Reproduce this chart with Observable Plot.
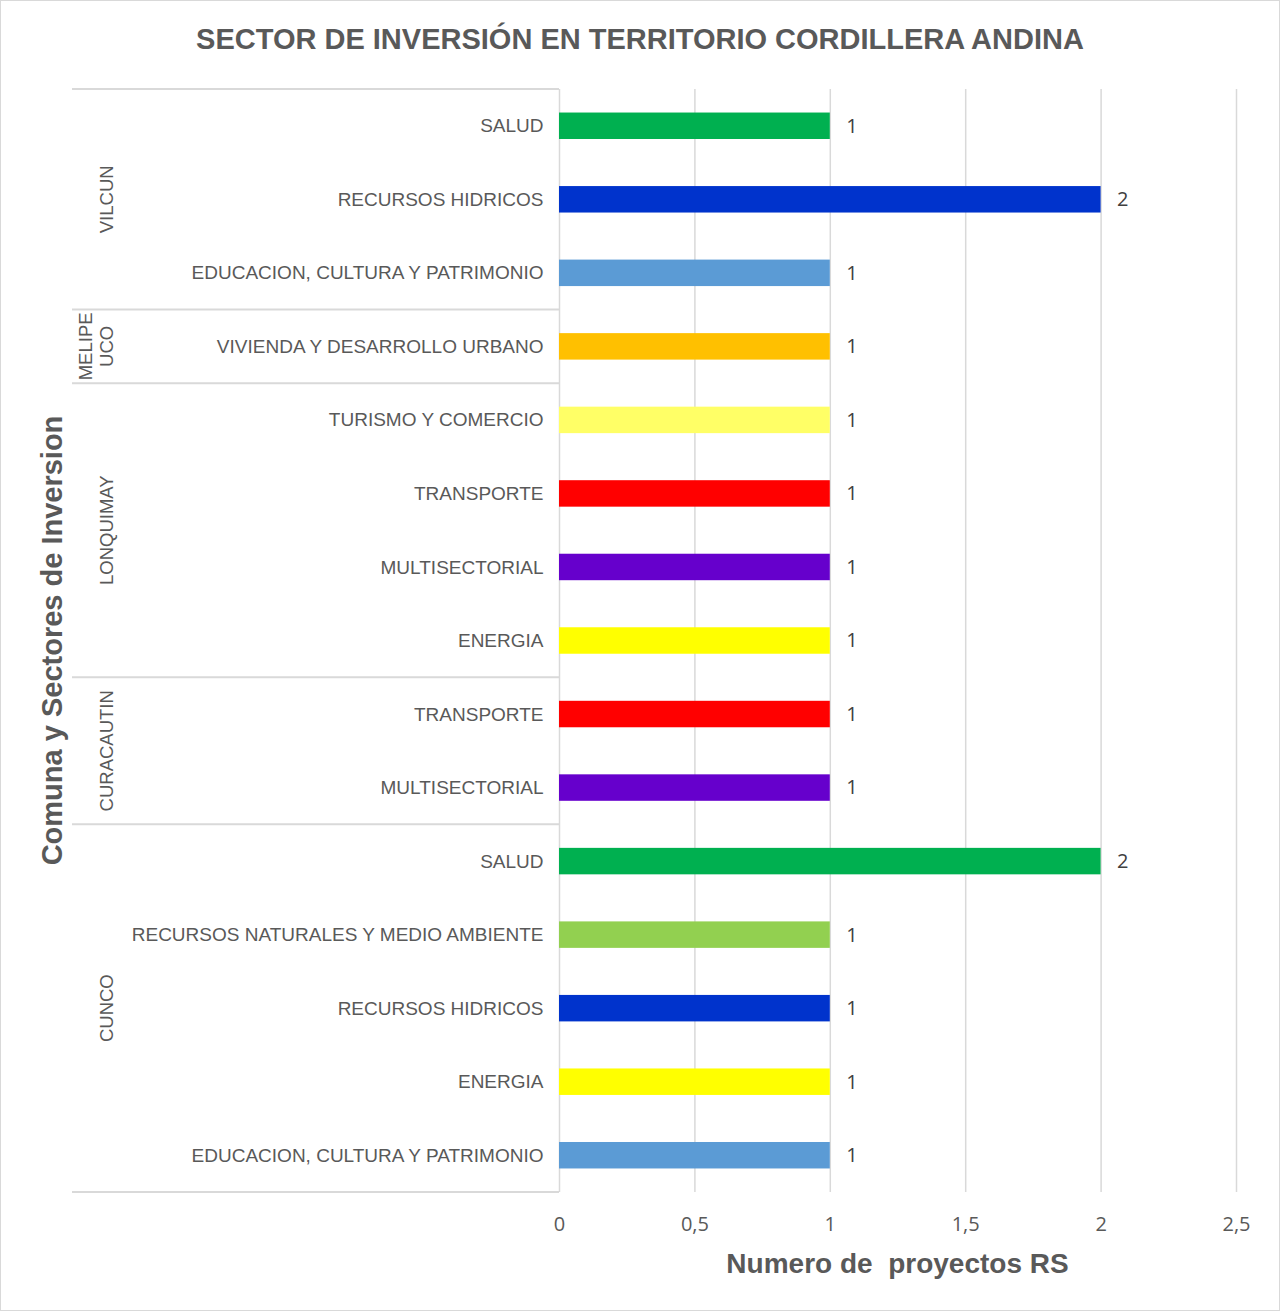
<!DOCTYPE html>
<html>
<head>
<meta charset="utf-8">
<script src="https://cdn.jsdelivr.net/npm/d3@7"></script>
<script src="https://cdn.jsdelivr.net/npm/@observablehq/plot@0.6"></script>
<style>
  html, body { margin: 0; padding: 0; background: #fff; }
  #frame { position: relative; width: 1280px; height: 1311px; box-sizing: border-box; border: 1px solid #d9d9d9; background: #fff; font-family: "Liberation Sans", Arial, sans-serif; }
  #title { height: 60px; line-height: 76px; text-align: center; font-weight: bold; font-size: 29px; color: #595959; white-space: nowrap; }
  svg { display: block; }
</style>
</head>
<body>
<div id="frame">
  <div id="title">SECTOR DE INVERSIÓN EN TERRITORIO CORDILLERA ANDINA</div>
  <div id="chart"></div>
</div>
<script>
// ---- Data ----
const comunas = ["VILCUN","VILCUN","VILCUN","MELIPEUCO","LONQUIMAY","LONQUIMAY","LONQUIMAY","LONQUIMAY","CURACAUTIN","CURACAUTIN","CUNCO","CUNCO","CUNCO","CUNCO","CUNCO"];
const sectores = ["SALUD","RECURSOS HIDRICOS","EDUCACION, CULTURA Y PATRIMONIO","VIVIENDA Y DESARROLLO URBANO","TURISMO Y COMERCIO","TRANSPORTE","MULTISECTORIAL","ENERGIA","TRANSPORTE","MULTISECTORIAL","SALUD","RECURSOS NATURALES Y MEDIO AMBIENTE","RECURSOS HIDRICOS","ENERGIA","EDUCACION, CULTURA Y PATRIMONIO"];
const valores = [1,2,1,1,1,1,1,1,1,1,2,1,1,1,1];
const sectorNombres = ["SALUD","RECURSOS HIDRICOS","EDUCACION, CULTURA Y PATRIMONIO","VIVIENDA Y DESARROLLO URBANO","TURISMO Y COMERCIO","TRANSPORTE","MULTISECTORIAL","ENERGIA","RECURSOS NATURALES Y MEDIO AMBIENTE"];
const sectorColores = ["#00B050","#0033CC","#5B9BD5","#FFC000","#FFFF66","#FF0000","#6600CC","#FFFF00","#92D050"];
const grupos = ["VILCUN","MELIPEUCO","LONQUIMAY","CURACAUTIN","CUNCO"];
const grupoEtiquetas = [["VILCUN"],["MELIPE","UCO"],["LONQUIMAY"],["CURACAUTIN"],["CUNCO"]];
const ticksX = [0, 0.5, 1, 1.5, 2, 2.5];
const tituloX = "Numero de  proyectos RS";
const tituloY = "Comuna y Sectores de Inversion";

// ---- Build table ----
const rows = comunas.map((c, i) => ({comuna: c, sector: sectores[i], valor: valores[i], key: c + "|" + sectores[i]}));
const keys = rows.map(d => d.key);

const W = 1278, H = 1249;
const mLeft = 558, mRight = 43, mTop = 28, mBottom = 118;
const fmt = v => String(v).replace(".", ",");
const numFont = "'Open Sans', 'Liberation Sans', sans-serif";

const chart = Plot.plot({
  width: W,
  height: H,
  marginLeft: mLeft,
  marginRight: mRight,
  marginTop: mTop,
  marginBottom: mBottom,
  style: {fontFamily: "'Liberation Sans', Arial, sans-serif", fontSize: "19px", color: "#595959", background: "#fff", overflow: "visible"},
  x: {domain: [0, 2.5], ticks: ticksX, tickFormat: fmt, tickSize: 0, tickPadding: 24, label: null},
  y: {domain: keys, paddingInner: 0.64, paddingOuter: 0.32, round: false, tickFormat: k => k.split("|")[1], tickSize: 0, tickPadding: 16, label: null},
  color: {domain: sectorNombres, range: sectorColores},
  marks: [
    Plot.gridX(ticksX, {stroke: "#d9d9d9", strokeOpacity: 1, strokeWidth: 1.5}),
    Plot.barX(rows, {x: "valor", y: "key", fill: "sector"}),
    Plot.text(rows, {x: "valor", y: "key", text: d => fmt(d.valor), dx: 16, textAnchor: "start", fontSize: 20, fill: "#404040", fontFamily: numFont})
  ]
});

document.getElementById("chart").appendChild(chart);

// ---- Decorations using the plot's own y scale ----
const svg = d3.select(chart);
svg.selectAll("g").filter(function(){ return /x-axis/.test(this.getAttribute("aria-label") || ""); })
  .attr("font-size", 20).attr("font-family", numFont)
  .selectAll("text").attr("font-size", 20).attr("font-family", numFont);

const ys = chart.scale("y");
const band = d3.scaleBand().domain(ys.domain).range(ys.range).paddingInner(0.64).paddingOuter(0.32);
const yApply = ys.apply ? (k => ys.apply(k)) : (k => band(k));
const bw = ys.bandwidth != null ? ys.bandwidth : band.bandwidth();
const step = ys.step != null ? ys.step : band.step();
const gap = (step - bw) / 2;

const lineX0 = 71, lineX1 = mLeft;
const g = svg.append("g").attr("aria-label", "groups");
const boundaries = [];
grupos.forEach((gr, gi) => {
  const ks = rows.filter(r => r.comuna === gr).map(r => r.key);
  const top = yApply(ks[0]) - gap;
  const bottom = yApply(ks[ks.length - 1]) + bw + gap;
  if (gi === 0) boundaries.push(top);
  boundaries.push(bottom);
  const cy = (top + bottom) / 2;
  const lines = grupoEtiquetas[gi];
  lines.forEach((t, li) => {
    const cx = 105 - (lines.length - 1 - li) * 21;
    g.append("text")
      .attr("transform", `translate(${cx},${cy}) rotate(-90)`)
      .attr("text-anchor", "middle")
      .attr("dominant-baseline", "central")
      .attr("font-size", 18.5)
      .attr("fill", "#595959")
      .text(t);
  });
});
boundaries.forEach(b => {
  g.append("line").attr("x1", lineX0).attr("x2", lineX1).attr("y1", b).attr("y2", b)
    .attr("stroke", "#d9d9d9").attr("stroke-width", 2);
});

// axis titles
const plotTop = mTop, plotBottom = H - mBottom;
svg.append("text")
  .attr("transform", `translate(51,${(plotTop + plotBottom) / 2}) rotate(-90)`)
  .attr("text-anchor", "middle")
  .attr("dominant-baseline", "central")
  .attr("font-size", 29)
  .attr("font-weight", "bold")
  .attr("fill", "#595959")
  .text(tituloY);

svg.append("text")
  .attr("x", (mLeft + (W - mRight)) / 2)
  .attr("y", plotBottom + 71)
  .attr("text-anchor", "middle")
  .attr("dominant-baseline", "central")
  .attr("font-size", 28)
  .attr("font-weight", "bold")
  .attr("fill", "#595959")
  .style("white-space", "pre")
  .text(tituloX);
</script>
</body>
</html>
